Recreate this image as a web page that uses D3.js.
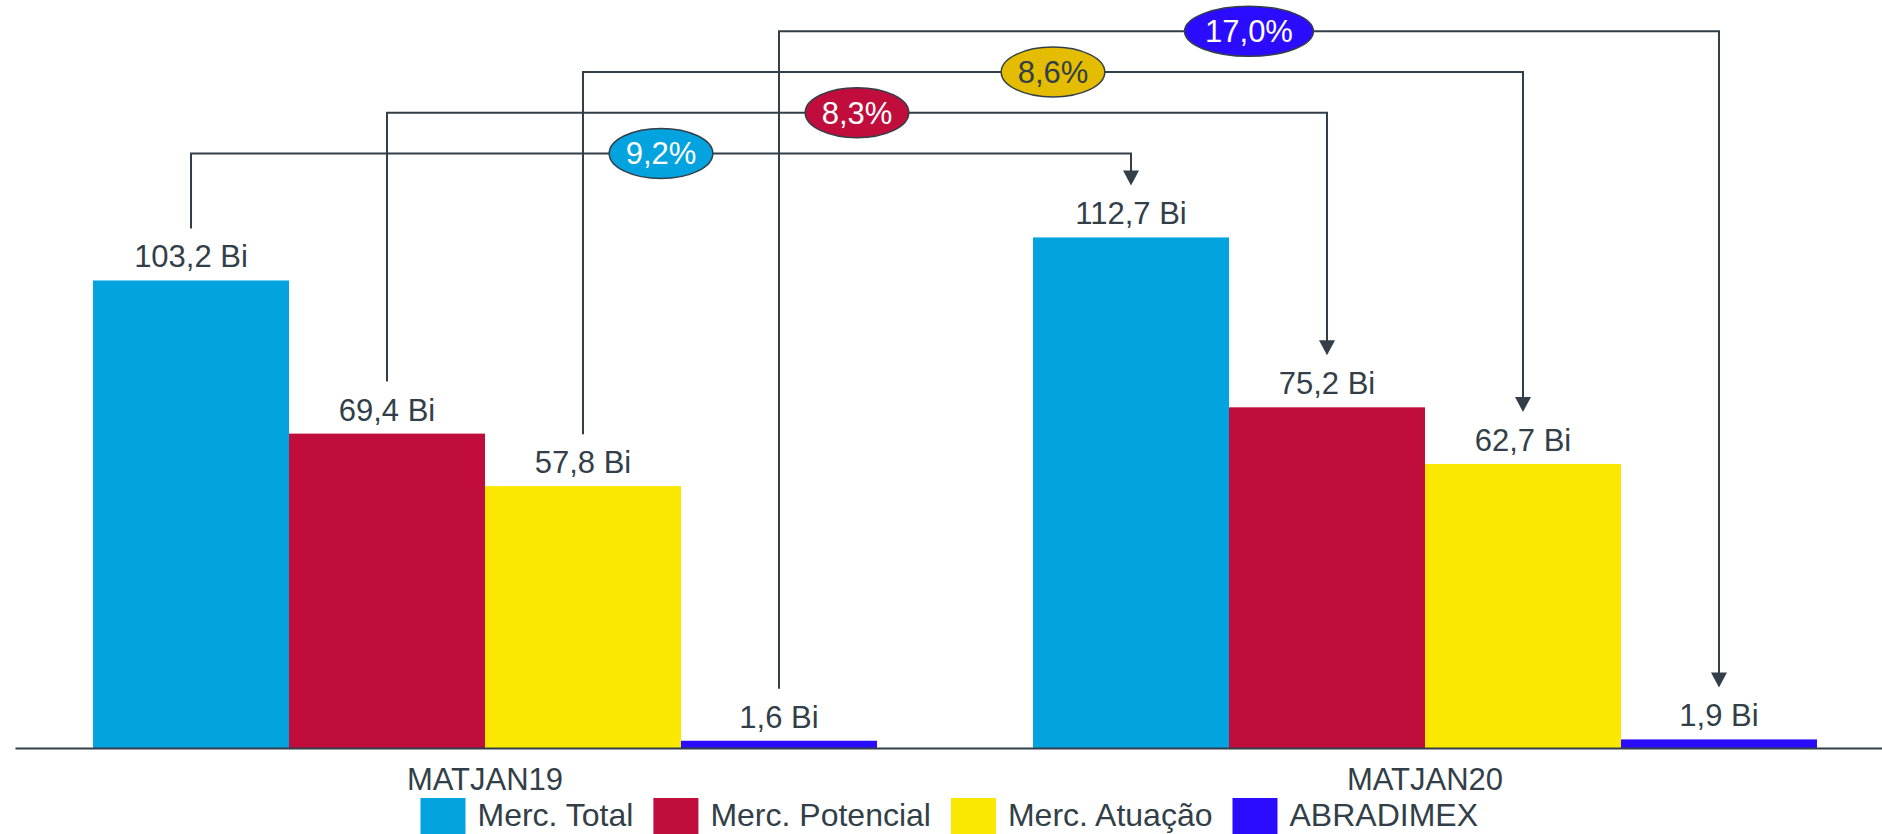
<!DOCTYPE html>
<html>
<head>
<meta charset="utf-8">
<script src="https://cdn.jsdelivr.net/npm/d3@7"></script>
<style>
  html, body { margin: 0; padding: 0; background: #fff; overflow: hidden; }
  svg { display: block; font-family: "Liberation Sans", Arial, sans-serif; }
</style>
</head>
<body>
<svg id="chart" width="1882" height="834"></svg>
<script>
// chart data
var categories = ["MATJAN19", "MATJAN20"];
var series = ["Merc. Total", "Merc. Potencial", "Merc. Atuação", "ABRADIMEX"];
var valuesJan19 = [103.2, 69.4, 57.8, 1.6];
var valuesJan20 = [112.7, 75.2, 62.7, 1.9];
var growthLabels = ["9,2%", "8,3%", "8,6%", "17,0%"];

var colors = ["#03a3e0", "#c10d3c", "#fbe800", "#2b0cff"];
var bubbleColors = ["#03a3e0", "#c10d3c", "#e5bd00", "#2b0cff"];
var bubbleText = ["#fff", "#fff", "#333f48", "#fff"];
var ink = "#333f48";

var svg = d3.select("#chart"),
    width = +svg.attr("width"),
    height = +svg.attr("height");

var baseY = 748;

var x0 = d3.scaleBand()
    .domain(categories)
    .range([15, 1895])
    .paddingInner(0.166)
    .paddingOuter(0.083);

var x1 = d3.scaleBand()
    .domain(series)
    .range([0, x0.bandwidth()]);

var y = d3.scaleLinear()
    .domain([0, 165])
    .range([baseY, 0.5]);

var rows = [valuesJan19, valuesJan20];

// bars
var groups = svg.append("g").selectAll("g")
    .data(categories)
    .enter().append("g")
    .attr("transform", function(d) { return "translate(" + x0(d) + ",0)"; });

groups.selectAll("rect")
    .data(function(d, i) {
      return series.map(function(s, j) { return {s: s, v: rows[i][j], j: j}; });
    })
    .enter().append("rect")
    .attr("x", function(d) { return x1(d.s); })
    .attr("y", function(d) { return y(d.v); })
    .attr("width", x1.bandwidth())
    .attr("height", function(d) { return baseY - y(d.v); })
    .attr("fill", function(d) { return colors[d.j]; });

groups.selectAll("text")
    .data(function(d, i) {
      return series.map(function(s, j) { return {s: s, v: rows[i][j]}; });
    })
    .enter().append("text")
    .attr("x", function(d) { return x1(d.s) + x1.bandwidth() / 2; })
    .attr("y", function(d) { return y(d.v) - 13; })
    .attr("text-anchor", "middle")
    .attr("font-size", 31)
    .attr("fill", ink)
    .text(function(d) { return d3.format(".1f")(d.v).replace(".", ",") + " Bi"; });

// x axis
var axis = svg.append("g")
    .attr("transform", "translate(0," + baseY + ")")
    .call(d3.axisBottom(x0).tickSize(0));
axis.select(".domain").attr("stroke", ink).attr("stroke-width", 2);
axis.selectAll("text")
    .attr("y", 42)
    .attr("dy", 0)
    .attr("font-size", 31)
    .attr("font-family", "Liberation Sans, Arial, sans-serif")
    .attr("fill", ink);

// growth brackets
var brackets = svg.append("g");
series.forEach(function(s, i) {
  var xa = x0(categories[0]) + x1(s) + x1.bandwidth() / 2;
  var xb = x0(categories[1]) + x1(s) + x1.bandwidth() / 2;
  var ya = y(valuesJan19[i]) - 52;
  var tip = y(valuesJan20[i]) - 52;
  var level = 31.3 + (series.length - 1 - i) * 40.7;

  brackets.append("path")
      .attr("d", "M" + xa + "," + ya + "V" + level + "H" + xb + "V" + (tip - 14))
      .attr("fill", "none")
      .attr("stroke", ink)
      .attr("stroke-width", 2);

  brackets.append("path")
      .attr("d", "M" + (xb - 8) + "," + (tip - 15) + "L" + (xb + 8) + "," + (tip - 15) + "L" + xb + "," + tip + "Z")
      .attr("fill", ink);
});

// bubbles drawn on top of every line
series.forEach(function(s, i) {
  var xa = x0(categories[0]) + x1(s) + x1.bandwidth() / 2;
  var xb = x0(categories[1]) + x1(s) + x1.bandwidth() / 2;
  var level = 31.3 + (series.length - 1 - i) * 40.7;
  var cx = (xa + xb) / 2;

  var g = svg.append("g");
  var ell = g.append("ellipse")
      .attr("cx", cx)
      .attr("cy", level)
      .attr("ry", 25)
      .attr("fill", bubbleColors[i])
      .attr("stroke", ink)
      .attr("stroke-width", 1.5);
  var t = g.append("text")
      .attr("x", cx)
      .attr("y", level + 11)
      .attr("text-anchor", "middle")
      .attr("font-size", 31)
      .attr("fill", bubbleText[i])
      .text(growthLabels[i]);
  ell.attr("rx", t.node().getComputedTextLength() * 0.733);
});

// legend
var legend = svg.append("g");
var lx = 420.5;
series.forEach(function(s, i) {
  legend.append("rect")
      .attr("x", lx)
      .attr("y", 798)
      .attr("width", 45)
      .attr("height", 40)
      .attr("fill", colors[i]);
  var t = legend.append("text")
      .attr("x", lx + 57)
      .attr("y", 826)
      .attr("font-size", 32)
      .attr("fill", ink)
      .text(s);
  lx += 57 + t.node().getComputedTextLength() + 20;
});
</script>
</body>
</html>
